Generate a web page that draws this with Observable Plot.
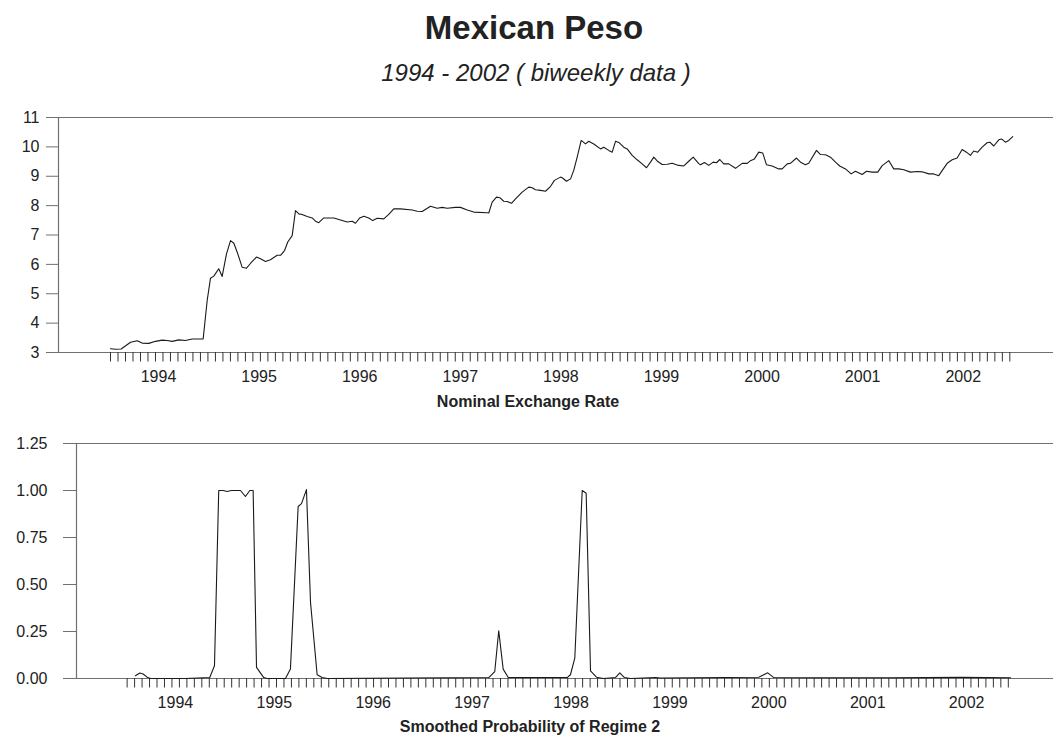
<!DOCTYPE html>
<html><head><meta charset="utf-8">
<script src="https://cdn.jsdelivr.net/npm/d3@7"></script>
<script src="https://cdn.jsdelivr.net/npm/@observablehq/plot@0.6"></script>
<style>
body{margin:0;background:#fff;font-family:"Liberation Sans",Arial,sans-serif;}
#wrap{position:relative;width:1053px;height:738px;overflow:hidden;background:#fff;}
.t{position:absolute;white-space:nowrap;transform:translateX(-50%);color:#222;line-height:1;}
.p{position:absolute;left:0;}
svg{overflow:visible}
</style></head><body><div id="wrap">
<div class="t" style="left:534px;top:11px;font-size:33px;font-weight:bold;">Mexican Peso</div>
<div class="t" style="left:536px;top:61px;font-size:24px;font-style:italic;">1994 - 2002 ( biweekly data )</div>
<div class="p" id="top" style="top:100px"></div>
<div class="t" style="left:528px;top:394px;font-size:16px;font-weight:bold;">Nominal Exchange Rate</div>
<div class="p" id="bot" style="top:425px"></div>
<div class="t" style="left:530px;top:719px;font-size:16px;font-weight:bold;">Smoothed Probability of Regime 2</div>
</div>
<script>
const yearLabels = [1994,1995,1996,1997,1998,1999,2000,2001,2002];
const rateTicks = [3,4,5,6,7,8,9,10,11];
const probTicks = [0,0.25,0.5,0.75,1,1.25];

const rateDates = [1994.023,1994.073,1994.129,1994.222,1994.288,1994.338,1994.404,1994.470,1994.537,1994.586,1994.636,1994.702,1994.768,1994.835,1994.917,1994.944,1994.984,1995.017,1995.050,1995.099,1995.133,1995.176,1995.216,1995.249,1995.288,1995.332,1995.375,1995.414,1995.474,1995.514,1995.564,1995.613,1995.680,1995.713,1995.753,1995.785,1995.829,1995.862,1995.895,1995.928,1995.978,1996.028,1996.061,1996.093,1996.143,1996.193,1996.243,1996.309,1996.376,1996.425,1996.458,1996.501,1996.541,1996.590,1996.630,1996.674,1996.740,1996.789,1996.839,1996.906,1997.022,1997.072,1997.121,1997.204,1997.270,1997.320,1997.370,1997.452,1997.502,1997.569,1997.634,1997.767,1997.783,1997.817,1997.860,1997.893,1997.932,1997.966,1998.009,1998.049,1998.115,1998.181,1998.215,1998.247,1998.297,1998.347,1998.396,1998.436,1998.496,1998.513,1998.556,1998.596,1998.628,1998.662,1998.702,1998.745,1998.777,1998.827,1998.894,1998.926,1998.976,1999.010,1999.043,1999.076,1999.125,1999.159,1999.209,1999.258,1999.308,1999.351,1999.391,1999.424,1999.457,1999.507,1999.557,1999.606,1999.656,1999.722,1999.771,1999.815,1999.871,1999.888,1999.927,1999.970,2000.014,2000.047,2000.080,2000.119,2000.169,2000.236,2000.302,2000.352,2000.385,2000.424,2000.467,2000.507,2000.544,2000.600,2000.666,2000.700,2000.750,2000.782,2000.842,2000.882,2000.931,2000.964,2001.041,2001.081,2001.131,2001.180,2001.230,2001.272,2001.329,2001.386,2001.428,2001.495,2001.538,2001.594,2001.650,2001.694,2001.760,2001.809,2001.859,2001.909,2001.975,2002.042,2002.091,2002.157,2002.207,2002.256,2002.340,2002.390,2002.439,2002.489,2002.532,2002.571,2002.604,2002.644,2002.688,2002.737,2002.764,2002.803,2002.853,2002.880,2002.919,2002.952,2002.992];
const rateValues = [3.13,3.11,3.12,3.35,3.40,3.32,3.31,3.38,3.42,3.41,3.38,3.43,3.41,3.46,3.46,3.46,4.77,5.53,5.60,5.85,5.59,6.36,6.81,6.72,6.36,5.90,5.87,6.03,6.25,6.19,6.10,6.16,6.31,6.31,6.47,6.76,6.98,7.83,7.72,7.70,7.63,7.58,7.47,7.42,7.58,7.58,7.58,7.51,7.44,7.47,7.40,7.58,7.64,7.58,7.49,7.57,7.55,7.70,7.89,7.89,7.85,7.81,7.80,7.98,7.91,7.94,7.91,7.94,7.94,7.85,7.78,7.76,7.75,8.12,8.29,8.27,8.15,8.14,8.08,8.23,8.46,8.63,8.61,8.54,8.52,8.49,8.65,8.86,8.97,8.95,8.83,8.91,9.20,9.65,10.22,10.10,10.19,10.10,9.93,9.99,9.88,9.82,10.19,10.15,9.99,9.93,9.71,9.56,9.42,9.29,9.48,9.65,9.52,9.40,9.41,9.44,9.38,9.35,9.51,9.65,9.43,9.39,9.47,9.37,9.48,9.46,9.57,9.42,9.42,9.27,9.44,9.44,9.53,9.59,9.82,9.79,9.39,9.35,9.25,9.25,9.42,9.44,9.62,9.48,9.39,9.44,9.88,9.74,9.73,9.65,9.48,9.35,9.25,9.08,9.17,9.06,9.17,9.14,9.14,9.36,9.53,9.25,9.25,9.22,9.14,9.16,9.15,9.08,9.08,9.02,9.44,9.56,9.62,9.91,9.82,9.71,9.86,9.82,9.99,10.14,10.16,10.03,10.24,10.27,10.16,10.22,10.35];

const probDates = [1994.096,1994.140,1994.174,1994.214,1994.248,1994.600,1994.847,1994.895,1994.938,1994.983,1995.023,1995.064,1995.158,1995.208,1995.252,1995.286,1995.320,1995.393,1995.428,1995.613,1995.663,1995.741,1995.775,1995.825,1995.866,1995.933,1995.984,1996.035,1997.668,1997.729,1997.769,1997.814,1997.865,1998.461,1998.494,1998.538,1998.613,1998.653,1998.697,1998.757,1998.828,1998.949,1998.993,1999.040,1999.101,1999.354,1999.405,2000.398,2000.489,2000.550,2000.989,2001.730,2002.445,2002.943];
const probValues = [0.015,0.029,0.024,0.007,0,0,0.005,0.068,1.0,1.0,0.995,1.0,1.0,0.968,1.0,1.0,0.059,0.005,0,0,0.05,0.915,0.93,1.005,0.405,0.02,0.005,0,0.005,0.037,0.254,0.05,0.005,0.005,0.02,0.108,1.0,0.985,0.04,0.007,0,0.005,0.03,0.005,0,0.005,0.003,0.007,0.03,0.005,0.004,0.004,0.006,0.004];

const rate = rateDates.map((t,i)=>({t, v: rateValues[i]}));
const prob = probDates.map((t,i)=>({t, v: probValues[i]}));

const axisGray = "#707070";
const font = {fontSize:"16px", fontFamily:"'Liberation Sans', Arial, sans-serif", color:"#222", background:"#fff"};

const topDomain = [1993.506, 2003.397];
const botDomain = [1993.50, 2003.378];
const topMinor = d3.range(1994.023, 2002.97, 0.0745);
const botMinor = d3.range(1994.012, 2002.95, 0.0755);

const topPlot = Plot.plot({
  width:1053, height:315, marginTop:17, marginBottom:63, marginLeft:58, marginRight:0,
  style: font,
  x:{domain: topDomain, label:null}, y:{domain:[3,11], label:null},
  marks:[
    Plot.ruleY([3,11], {stroke: axisGray, strokeWidth:1.2}),
    Plot.ruleX([topDomain[0]], {y1:3, y2:11, stroke: axisGray, strokeWidth:1.2}),
    Plot.axisY({ticks: rateTicks, tickSize:12, tickPadding:7, stroke: axisGray, fill:"#222", label:null}),
    Plot.axisX({ticks: topMinor, tickSize:9.5, tickFormat:()=>"", stroke:"#333", label:null}),
    Plot.axisX({ticks: yearLabels.map(y=>y+0.5), tickSize:0, tickPadding:18, tickFormat:d=>String(Math.round(d-0.5)), fill:"#222", label:null}),
    Plot.line(rate, {x:"t", y:"v", stroke:"#1a1a1a", strokeWidth:1.1})
  ]
});
document.getElementById("top").appendChild(topPlot);

const botPlot = Plot.plot({
  width:1053, height:300, marginTop:18, marginBottom:47, marginLeft:76, marginRight:0,
  style: font,
  x:{domain: botDomain, label:null}, y:{domain:[0,1.25], label:null},
  marks:[
    Plot.ruleY([0,1.25], {stroke: axisGray, strokeWidth:1.2}),
    Plot.ruleX([botDomain[0]], {y1:0, y2:1.25, stroke: axisGray, strokeWidth:1.2}),
    Plot.axisY({ticks: probTicks, tickSize:13, tickPadding:16, tickFormat:d3.format(".2f"), stroke: axisGray, fill:"#222", label:null}),
    Plot.axisX({ticks: botMinor, tickSize:9.5, tickFormat:()=>"", stroke:"#333", label:null}),
    Plot.axisX({ticks: yearLabels.map(y=>y+0.5), tickSize:0, tickPadding:18, tickFormat:d=>String(Math.round(d-0.5)), fill:"#222", label:null}),
    Plot.line(prob, {x:"t", y:"v", stroke:"#1a1a1a", strokeWidth:1.1})
  ]
});
document.getElementById("bot").appendChild(botPlot);
</script>
</body></html>
